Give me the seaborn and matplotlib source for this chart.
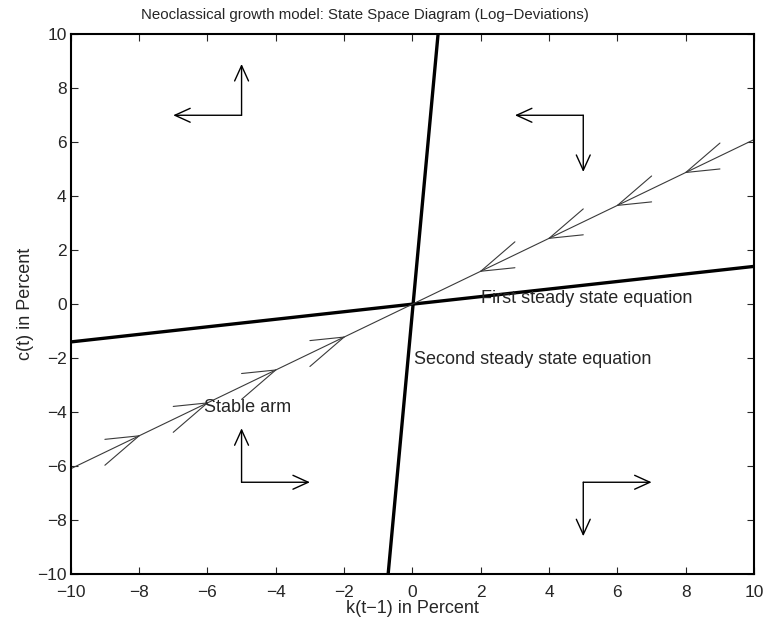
import numpy as np
import pandas as pd
import seaborn as sns
import matplotlib.pyplot as plt

# steady state lines and stable arm (log-deviations, percent)
k_grid = [-10, 10]
first_ss_c = [-1.4, 1.4]
second_ss_k = [-0.71, 0.75]
second_ss_c = [-10, 10]
stable_c = [-6.1, 6.1]

# arrow heads along the stable arm (tips point toward the origin)
tip_k = [-8, -6, -4, -2, 2, 4, 6, 8]
stable_slope = 0.61

# direction arrows in each region: corner -> end
corner_k = [-5, -5, 5, 5, -5, -5, 5, 5]
corner_c = [7, 7, 7, 7, -6.6, -6.6, -6.6, -6.6]
end_k = [-7, -5, 3, 5, -5, -3, 7, 5]
end_c = [7, 8.9, 7, 4.9, -4.6, -6.6, -6.6, -8.6]

sns.set_style("white")
plt.rcParams['font.family'] = ['Liberation Sans', 'DejaVu Sans']

fig = plt.figure(figsize=(7.67, 6.25), dpi=100)
ax = fig.add_axes([0.0922, 0.0816, 0.891, 0.8635])

first_df = pd.DataFrame({'k': k_grid, 'c': first_ss_c})
second_df = pd.DataFrame({'k': second_ss_k, 'c': second_ss_c})
stable_df = pd.DataFrame({'k': k_grid, 'c': stable_c})

sns.lineplot(data=first_df, x='k', y='c', color='black', linewidth=2.4, ax=ax)
sns.lineplot(data=second_df, x='k', y='c', color='black', linewidth=2.4, ax=ax)
sns.lineplot(data=stable_df, x='k', y='c', color='#3a3a3a', linewidth=0.8, ax=ax)

# chevrons on the stable arm
for t in tip_k:
    tc = stable_slope * t
    back = np.sign(t)  # arms trail away from the origin
    for spread in (0.48, -0.48):
        ax.plot([t, t + back], [tc, tc + back * (stable_slope + spread)],
                color='#3a3a3a', linewidth=0.8)

for x0, y0, x1, y1 in zip(corner_k, corner_c, end_k, end_c):
    ax.annotate('', xy=(x1, y1), xytext=(x0, y0),
                arrowprops=dict(arrowstyle='->,head_length=1.1,head_width=0.5',
                                color='black', linewidth=1.0,
                                shrinkA=0, shrinkB=0))

ax.text(2.0, 0.2, 'First steady state equation', fontsize=13, va='center')
ax.text(0.05, -2.05, 'Second steady state equation', fontsize=13, va='center')
ax.text(-6.1, -3.82, 'Stable arm', fontsize=13, va='center')

ax.set_xlim(-10, 10)
ax.set_ylim(-10, 10)
ticks = list(range(-10, 11, 2))
ax.set_xticks(ticks)
ax.set_yticks(ticks)
ax.set_xticklabels([str(v).replace('-', '\u2212') for v in ticks])
ax.set_yticklabels([str(v).replace('-', '\u2212') for v in ticks])
ax.tick_params(direction='in', length=5, width=0.8, labelsize=12.5,
               top=True, right=True, bottom=True, left=True)
ax.tick_params(axis='x', pad=8)
ax.tick_params(axis='y', pad=3)
for s in ax.spines.values():
    s.set_visible(True)
    s.set_color('black')
    s.set_linewidth(1.5)

ax.set_xlabel('k(t\u22121) in Percent', fontsize=13, labelpad=0)
ax.set_ylabel('c(t) in Percent', fontsize=13, labelpad=2)
fig.text(0.476, 0.976,
         'Neoclassical growth model: State Space Diagram (Log\u2212Deviations)',
         fontsize=10.8, ha='center', va='center')

fig.savefig('out.png', dpi=100)
